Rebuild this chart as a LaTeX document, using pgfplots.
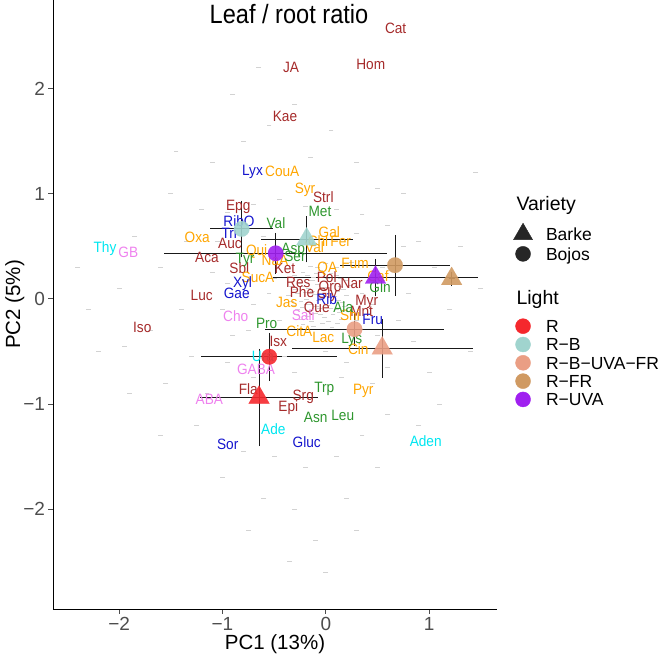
\documentclass[border=0pt]{standalone}
\usepackage{fontspec}
\setmainfont{Liberation Sans}
\usepackage{pgfplots}
\usepackage{pgfplotstable}
\pgfplotsset{compat=1.18}
\definecolor{cR}{RGB}{245,40,45}
\definecolor{cRB}{RGB}{160,212,206}
\definecolor{cRBUF}{RGB}{234,158,132}
\definecolor{cRFR}{RGB}{208,154,98}
\definecolor{cRUVA}{RGB}{160,32,240}
\definecolor{lbrown}{RGB}{165,42,42}
\definecolor{lorange}{RGB}{255,165,0}
\definecolor{lgreen}{RGB}{46,150,46}
\definecolor{lblue}{RGB}{20,20,205}
\definecolor{lcyan}{RGB}{0,230,240}
\definecolor{lviolet}{RGB}{238,130,238}
\definecolor{tickgray}{RGB}{77,77,77}
\pgfplotsset{
 labs/.style={only marks, mark=text, text mark={}, forget plot, point meta=explicit symbolic,
  nodes near coords={\scalebox{0.91}[1]{\pgfplotspointmeta}},
  nodes near coords style={font=\fontsize{15}{15}\selectfont, text=#1, anchor=base, yshift=-5.4pt, inner sep=0pt}},
 circ/.style={only marks, forget plot, mark=*, mark size=7.8pt, color=#1, mark options={fill=#1, draw=#1, line width=0.1pt, fill opacity=0.9, draw opacity=0.9}},
 tri/.style={only marks, forget plot, mark=triangle*, mark size=12pt, color=#1, mark options={fill=#1, draw=#1, line width=0.1pt, fill opacity=0.9, draw opacity=0.9}},
}
\pgfplotstableread{
x y ex ey
-0.547 -0.550 0.658 0.184
-0.646 -0.938 0.571 0.420
-0.814 0.666 0.302 0.227
-0.185 0.567 0.444 0.177
0.278 -0.288 0.866 0.113
0.546 -0.470 0.876 0.238
0.670 0.321 0.532 0.246
1.218 0.191 0.030 0.027
-0.485 0.434 1.078 0.152
0.481 0.204 0.992 0.135
}\errtab
\begin{document}
\begin{tikzpicture}
\path[use as bounding box] (-53pt,-45pt) rectangle (608pt,609pt);
\begin{axis}[
 scale only axis, width=444pt, height=609pt,
 xmin=-2.640, xmax=1.657, ymin=-2.950, ymax=2.844,
 axis x line*=bottom, axis y line*=left,
 axis line style={black, line width=0.9pt, -},
 xtick={-2,-1,0,1}, xticklabels={−2,−1,0,1},
 ytick={-2,-1,0,1,2}, yticklabels={−2,−1,0,1,2},
 tick align=outside, major tick length=4.5pt,
 tick style={tickgray, line width=0.9pt},
 ticklabel style={font=\fontsize{19}{19}\selectfont, text=tickgray},
 xlabel={PC1 (13\%)}, ylabel={PC2 (5\%)},
 every axis x label/.style={at={(axis description cs:0.5,-0.0673)}, anchor=base, font=\fontsize{20.5}{20.5}\selectfont},
 every axis y label/.style={at={(axis description cs:-0.0743,0.5)}, rotate=90, anchor=base, font=\fontsize{20.5}{20.5}\selectfont},
 legend cell align=left,
 legend style={draw=none, fill=none, at={(axis description cs:1.0372,0.6664)}, anchor=north west,
   inner sep=0pt, outer sep=0pt, row sep=0pt, column sep=13.5pt,
   nodes={inner sep=0pt, font=\fontsize{17.5}{17.5}\selectfont}},
]
% background loadings
\addplot[only marks, mark=-, mark size=2.4pt, color=gray!35, mark options={gray!35, line width=0.7pt}, forget plot] coordinates {
(-0.30,0.22) (-0.22,0.25) (-0.12,0.21) (-0.05,0.27) (0.05,0.24) (0.14,0.2) (-0.33,0.12) (-0.25,0.15) (-0.17,0.1) (-0.08,0.14) (0.0,0.11) (0.08,0.15) (0.17,0.09) (0.24,0.13) (-0.36,0.03) (-0.27,0.05) (-0.19,0.0) (-0.11,0.04) (-0.03,0.02) (0.05,0.05) (0.12,-0.01) (0.2,0.03) (-0.31,-0.06) (-0.23,-0.08) (-0.14,-0.05) (-0.06,-0.09) (0.02,-0.06) (0.1,-0.1) (0.18,-0.07) (-0.28,-0.15) (-0.18,-0.17) (-0.1,-0.14) (-0.01,-0.18) (0.07,-0.15) (0.15,-0.19) (-0.22,-0.24) (-0.12,-0.26) (-0.03,-0.23) (0.06,-0.27) (-0.15,0.31) (0.0,0.34) (0.1,0.3) (-0.2,0.06) (-0.07,-0.01) (0.03,0.17) (-0.13,0.18) (0.11,0.07) (-0.24,-0.02) (0.0,-0.12) (-0.16,-0.11)
(-0.26,0.19) (-0.18,0.22) (-0.09,0.24) (0.02,0.2) (0.1,0.22) (-0.29,0.09) (-0.21,0.12) (-0.13,0.07) (-0.04,0.09) (0.04,0.08) (0.14,0.12) (-0.33,-0.02) (-0.15,0.02) (-0.06,0.05) (0.09,0.02) (0.16,-0.03) (-0.27,-0.1) (-0.19,-0.05) (-0.09,-0.07) (0.05,-0.09) (0.13,-0.13) (-0.24,-0.19) (-0.14,-0.21) (-0.05,-0.15) (0.03,-0.21) (0.11,-0.23) (-0.08,0.3) (0.06,0.29) (0.2,0.18) (0.22,-0.12)
(-0.95,0.82) (-0.7,0.9) (-0.45,0.95) (-0.2,0.88) (0.1,0.85) (0.35,0.8) (0.6,0.7) (-1.05,0.55) (-0.6,0.6) (0.3,0.62) (0.75,0.5) (-1.1,0.25) (-0.95,0.15) (0.55,0.3) (0.8,0.05) (-1.0,-0.1) (-0.7,-0.05) (0.45,-0.05) (0.7,-0.2) (-0.9,-0.35) (-0.75,-0.3) (0.5,-0.35) (0.85,-0.4) (-0.95,-0.6) (-0.4,-0.55) (0.0,-0.5) (0.2,-0.6) (0.6,-0.65) (-0.7,-0.75) (-0.3,-0.7) (0.15,-0.75) (0.45,-0.8) (-0.55,0.05) (-0.45,-0.2) (0.35,0.05) (0.3,-0.2) (-0.5,0.2) (0.25,0.35)
(-2.4,0.3) (-2.2,-0.5) (-2.0,0.1) (-1.9,-0.9) (-1.85,0.6) (-1.7,-0.3) (-1.6,0.3) (-1.55,-0.8) (-1.5,1.0) (-1.4,-0.1) (-1.35,0.55) (-1.3,-0.55) (-1.25,-1.2) (-1.2,0.85) (-1.15,-0.9) (-1.6,-1.3) (-1.45,1.4) (-1.1,1.3) (-0.8,1.5) (-0.55,1.65) (-0.9,1.95) (-0.65,2.2) (-0.3,1.85) (-0.15,1.35) (0.05,1.6) (0.3,1.3) (0.5,1.05) (0.75,1.0) (0.9,0.55) (1.05,0.3) (1.2,-0.1) (1.3,0.5) (1.4,-0.5) (1.0,-0.7) (1.1,-1.0) (0.9,-1.2) (0.6,-1.1) (0.35,-1.3) (0.1,-1.5) (-0.2,-1.6) (-0.5,-1.5) (-0.8,-1.45) (-1.0,-1.7) (-0.6,-1.9) (-0.3,-2.0) (-0.1,-2.3) (0.2,-1.9) (0.5,-1.6) (-0.75,-2.2) (0.0,-2.6) (-0.35,-2.5) (0.3,-2.2) (1.5,0.1) (1.45,1.2) (-2.3,-0.1) (-1.95,-0.45)
};
% metabolite labels
\addplot[labs=lbrown] table[meta=label] {
x y label
0.676 2.575 Cat
-0.337 2.209 JA
0.435 2.235 Hom
-0.395 1.740 Kae
-0.847 0.893 Epg
-0.927 0.529 Auc
-1.150 0.401 Aca
-0.837 0.291 Sbl
-1.201 0.037 Luc
-1.776 -0.270 Iso
-0.460 -0.398 Isx
-0.024 0.972 Strl
-0.395 0.291 Ket
-0.266 0.164 Res
0.009 0.211 Pol
0.041 0.126 Oro
0.251 0.148 Nar
-0.230 0.066 Phe
0.012 0.056 Gly
-0.088 -0.080 Que
0.396 -0.010 Myr
0.347 -0.112 Mnt
-0.750 -0.857 Fla
-0.218 -0.914 Srg
-0.363 -1.016 Epi
};
\addplot[labs=lorange] table[meta=label] {
x y label
-1.244 0.586 Oxa
-0.669 0.465 Qui
-0.656 0.211 SucA
-0.421 1.220 CouA
-0.201 1.058 Syr
0.034 0.639 Gal
-0.075 0.551 Chl
0.144 0.554 Fer
0.505 0.218 Caf
-0.492 0.370 NaA
-0.109 0.494 Val
0.283 0.344 Fum
0.015 0.306 QA
-0.378 -0.027 Jas
-0.256 -0.303 CitA
-0.024 -0.365 Lac
0.315 -0.480 Cin
0.234 -0.153 Shi
0.363 -0.860 Pyr
};
\addplot[labs=lgreen] table[meta=label] {
x y label
-0.782 0.386 Tyr
-0.482 0.725 Val
-0.056 0.839 Met
-0.315 0.481 Asp
-0.298 0.408 Ser
-0.572 -0.232 Pro
0.169 -0.074 Ala
0.251 -0.375 Lys
0.525 0.110 Gln
-0.015 -0.841 Trp
-0.098 -1.127 Asn
0.164 -1.105 Leu
};
\addplot[labs=lblue] table[meta=label] {
x y label
-0.709 1.226 Lyx
-0.840 0.744 RibO
-0.934 0.630 Tri
-0.806 0.156 Xyl
-0.862 0.059 Gae
0.009 -0.004 Rib
0.454 -0.194 Fru
-0.949 -1.381 Sor
-0.185 -1.359 Gluc
};
\addplot[labs=lcyan] table[meta=label] {
x y label
-2.137 0.491 Thy
-0.608 -0.543 Ura
-0.508 -1.241 Ade
0.967 -1.349 Aden
};
\addplot[labs=lviolet] table[meta=label] {
x y label
-1.911 0.449 GB
-0.872 -0.163 Cho
-0.218 -0.153 Sali
-0.675 -0.670 GABA
-1.127 -0.955 ABA
};
% group means
\addplot[circ=cR] coordinates {(-0.547,-0.550)};
\addplot[tri=cR] coordinates {(-0.646,-0.938)};
\addplot[circ=cRB] coordinates {(-0.814,0.666)};
\addplot[tri=cRB] coordinates {(-0.185,0.567)};
\addplot[circ=cRBUF] coordinates {(0.278,-0.288)};
\addplot[tri=cRBUF] coordinates {(0.546,-0.470)};
\addplot[circ=cRFR] coordinates {(0.670,0.321)};
\addplot[tri=cRFR] coordinates {(1.218,0.191)};
\addplot[circ=cRUVA] coordinates {(-0.485,0.434)};
\addplot[tri=cRUVA] coordinates {(0.481,0.204)};
% error bars
\addplot[only marks, mark=text, text mark={}, color=black!90, forget plot, error bars/.cd, x dir=both, x explicit,
  error bar style={draw=black!90, line width=1pt}, error mark=none] table[x=x, y=y, x error=ex] {\errtab};
\addplot[only marks, mark=text, text mark={}, color=black!90, forget plot, error bars/.cd, y dir=both, y explicit,
  error bar style={draw=black!90, line width=1pt}, error mark options={draw=black!90, line width=1pt, mark size=4.5pt}] table[x=x, y=y, y error=ey] {\errtab};
% title
\node[anchor=base, inner sep=0pt, font=\fontsize{26.5}{26.5}\selectfont] at (rel axis cs:0.5315,0.9606) {\scalebox{0.89}[1]{Leaf / root ratio}};
% legend
\addlegendimage{empty legend}
\addlegendentry[font=\fontsize{19.5}{19.5}\selectfont, text height=7.83pt, text depth=12.17pt]{\makebox[0pt][l]{\hspace*{-30pt}Variety}}
\addlegendimage{only marks, mark=triangle*, mark size=11pt, black!85}
\addlegendentry[text height=16.12pt, text depth=3.59pt]{Barke}
\addlegendimage{only marks, mark=*, mark size=7.5pt, black!85}
\addlegendentry[text height=16.12pt, text depth=3.59pt]{Bojos}
\addlegendimage{empty legend}
\addlegendentry[font=\fontsize{19.5}{19.5}\selectfont, text height=41.13pt, text depth=12.17pt]{\makebox[0pt][l]{\hspace*{-30pt}Light}}
\addlegendimage{only marks, mark=*, mark size=7.5pt, cR}
\addlegendentry[text height=15.42pt, text depth=2.89pt]{R}
\addlegendimage{only marks, mark=*, mark size=7.5pt, cRB}
\addlegendentry[text height=15.42pt, text depth=2.89pt]{R−B}
\addlegendimage{only marks, mark=*, mark size=7.5pt, cRBUF}
\addlegendentry[text height=15.42pt, text depth=2.89pt]{R−B−UVA−FR}
\addlegendimage{only marks, mark=*, mark size=7.5pt, cRFR}
\addlegendentry[text height=15.42pt, text depth=2.89pt]{R−FR}
\addlegendimage{only marks, mark=*, mark size=7.5pt, cRUVA}
\addlegendentry[text height=15.42pt, text depth=2.89pt]{R−UVA}
\end{axis}
\end{tikzpicture}
\end{document}
